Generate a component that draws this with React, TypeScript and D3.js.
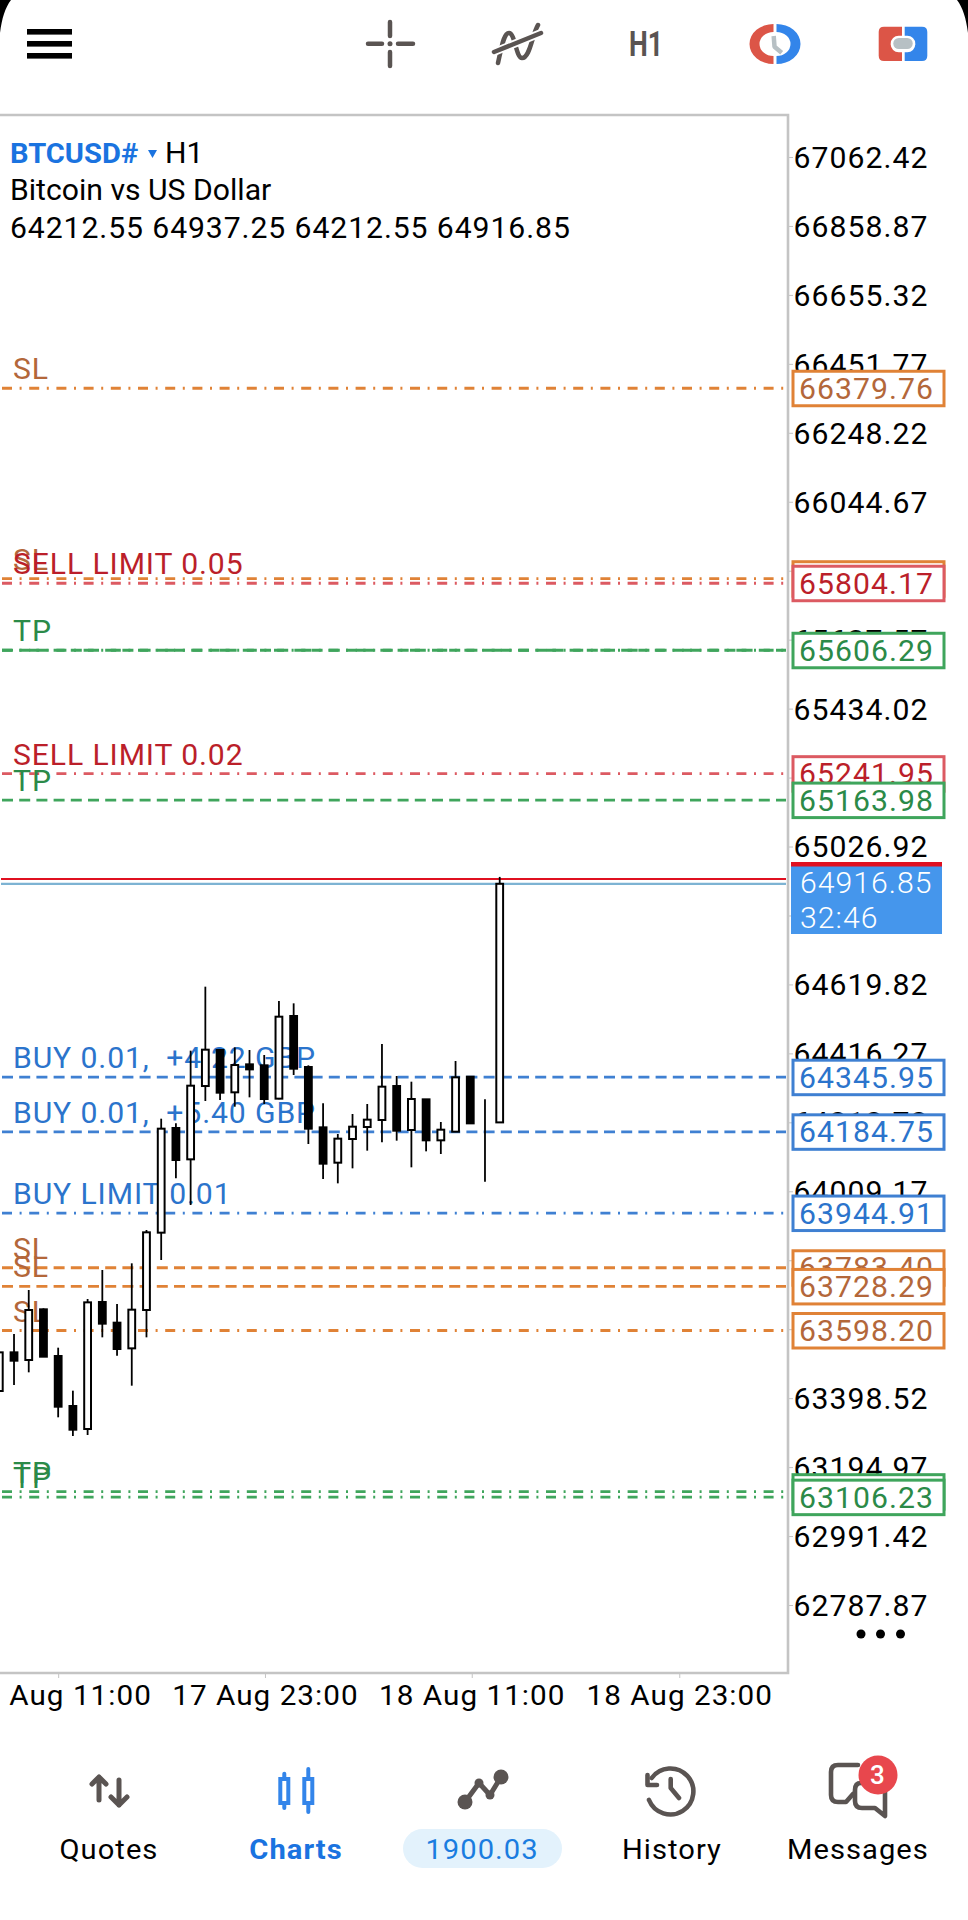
import React, { useEffect } from "react";
import * as d3 from "d3";

// chart values
const priceTicks = [
  67062.42, 66858.87, 66655.32, 66451.77, 66248.22, 66044.67, 65841.12, 65637.57, 65434.02, 65230.47, 65026.92,
  64823.37, 64619.82, 64416.27, 64212.72, 64009.17, 63805.62, 63602.07, 63398.52, 63194.97, 62991.42, 62787.87,
];
const timeLabels = ["17 Aug 11:00", "17 Aug 23:00", "18 Aug 11:00", "18 Aug 23:00"];
const timeTickBars = [4, 18.05, 32.1, 46.2];

const opens = [
  63419.6, 63533.7, 63511.1, 63660.7, 63522.9, 63375.3, 63307.4, 63682.3, 63621.3, 63545.5, 63658.7, 63887.0,
  64196.0, 64103.5, 64319.9, 64426.2, 64301.3, 64383.9, 64381.0, 64282.6, 64526.6, 64376.0, 64197.9, 64093.6,
  64163.5, 64198.9, 64219.6, 64319.9, 64190.1, 64280.6, 64159.6, 64185.1, 64347.5, 64211.7, 64212.55,
];
const closes = [
  63533.7, 63509.1, 63658.7, 63520.9, 63373.3, 63305.4, 63681.3, 63618.4, 63543.6, 63659.7, 63888.0, 64194.0,
  64101.5, 64320.9, 64427.2, 64300.3, 64381.9, 64369.1, 64281.6, 64524.6, 64371.1, 64194.0, 64090.7, 64164.5,
  64199.9, 64220.6, 64318.0, 64188.1, 64281.6, 64159.6, 64191.0, 64345.5, 64209.7, 64211.7, 64916.85,
];
const highs = [
  63533.7, 63587.9, 63717.7, 63663.6, 63547.5, 63420.6, 63691.2, 63776.8, 63676.4, 63796.5, 63894.9, 64223.5,
  64209.7, 64424.3, 64613.2, 64428.2, 64434.1, 64426.2, 64411.5, 64570.9, 64564.0, 64381.0, 64268.8, 64178.3,
  64237.3, 64266.8, 64443.9, 64349.5, 64332.7, 64280.6, 64213.7, 64393.7, 64347.5, 64280.6, 64937.25,
];
const lows = [
  63419.6, 63437.3, 63474.7, 63520.9, 63341.9, 63286.7, 63289.7, 63578.0, 63523.9, 63435.3, 63578.0, 63806.3,
  64047.4, 63968.7, 64275.7, 64278.6, 64258.9, 64286.5, 64266.8, 64280.6, 64352.4, 64148.7, 64045.4, 64032.6,
  64076.9, 64129.1, 64153.7, 64158.6, 64079.9, 64127.1, 64119.2, 64185.1, 64209.7, 64037.5, 64212.55,
];

const orderLabels = [
  "SL", "SL", "SELL LIMIT 0.05", "TP", "TP", "SELL LIMIT 0.02", "TP",
  "BUY 0.01,  +4.22 GBP", "BUY 0.01,  +5.40 GBP", "BUY LIMIT 0.01",
  "SL", "SL", "SL", "TP", "TP",
];
const orderPrices = [
  66379.76, 65817.5, 65804.17, 65606.29, 65606.29, 65241.95, 65163.98,
  64345.95, 64184.75, 63944.91,
  63783.4, 63728.29, 63598.2, 63122.4, 63106.23,
];
const orderKinds = [
  "dashdot", "dashdot", "dashdot", "dashdot", "dash", "dashdot", "dash",
  "dash", "dash", "dashdot",
  "dash", "dash", "dashdot", "dashdot", "dashdot",
];
const bidPrice = 64916.85;
const askPrice = 64931.0;
const countdown = "32:46";
const balance = "1900.03";
const navLabels = ["Quotes", "Charts", "History", "Messages"];

const FONT = "Roboto, sans-serif";
const GREY = "#5a5452";
const BLUE = "#3385ea";
const SX = 1.04; // the screenshot is a bit wider than the glyphs' natural shape
const LS = 1;

const lineColor = (l: string) =>
  l.startsWith("SL") ? "#e08236" : l.startsWith("TP") ? "#3fa55c" : l.startsWith("SELL") ? "#dc5a62" : "#3f80d2";
const textColor = (l: string) =>
  l.startsWith("SL") ? "#b3673a" : l.startsWith("TP") ? "#2b8a48" : l.startsWith("SELL") ? "#bb1f2a" : "#2b74cc";

const App = () => {
  const svgRef = React.useRef(null);

  useEffect(() => {
    const svg = d3.select(svgRef.current);
    svg.selectAll("*").remove();

    const y = d3.scaleLinear().domain([62787.87, 67062.42]).range([1605, 157]);
    const x = d3.scaleLinear().domain([0, 34]).range([-0.7, 499.7]);

    const put = (
      g: any,
      str: string,
      tx: number,
      ty: number,
      size: number,
      fill: string,
      weight = 400,
      anchor = "start"
    ) =>
      g
        .append("text")
        .attr("transform", `translate(${tx},${ty}) scale(${SX},1)`)
        .attr("font-family", FONT)
        .attr("font-size", size)
        .attr("font-weight", weight)
        .attr("letter-spacing", LS)
        .attr("text-anchor", anchor)
        .attr("fill", fill)
        .text(str);

    // frame
    svg
      .append("path")
      .attr("d", "M0,115 H788 V1673 H0")
      .attr("fill", "none")
      .attr("stroke", "#c4c4c4")
      .attr("stroke-width", 2.6);

    // order labels and lines sit below the candles
    const orders = svg.append("g");
    orderLabels.forEach((l, i) => {
      const py = y(orderPrices[i]);
      if (!(l === "TP" && orderKinds[i] === "dash" && orderPrices[i] === orderPrices[i - 1]))
        put(orders, l, 13, py - 9, 29, textColor(l)).attr("letter-spacing", 0.85).style("white-space", "pre");
      orders
        .append("line")
        .attr("x1", 2)
        .attr("x2", 786)
        .attr("y1", py)
        .attr("y2", py)
        .attr("stroke", lineColor(l))
        .attr("stroke-width", 2.8)
        .attr("stroke-dasharray", orderKinds[i] === "dash" ? "11 6.2" : "10 7.6 2 7.6");
    });

    [
      { p: askPrice, c: "#e01020" },
      { p: bidPrice, c: "#7db3d3" },
    ].forEach((d) => {
      svg
        .append("line")
        .attr("x1", 1)
        .attr("x2", 786)
        .attr("y1", y(d.p))
        .attr("y2", y(d.p))
        .attr("stroke", d.c)
        .attr("stroke-width", 2.2);
    });

    // candles
    const candles = highs.map((h, i) => ({ i, h, l: lows[i], o: opens[i], c: closes[i] }));
    const bars = svg.append("g").selectAll("g").data(candles).enter().append("g");
    bars
      .append("line")
      .attr("x1", (d) => x(d.i))
      .attr("x2", (d) => x(d.i))
      .attr("y1", (d) => y(d.h))
      .attr("y2", (d) => y(d.l))
      .attr("stroke", "#000")
      .attr("stroke-width", 1.8);
    bars
      .append("rect")
      .attr("x", (d) => x(d.i) - 3.4)
      .attr("width", 6.8)
      .attr("y", (d) => y(Math.max(d.o, d.c)))
      .attr("height", (d) => Math.abs(y(d.o) - y(d.c)))
      .attr("fill", (d) => (d.c >= d.o ? "#fff" : "#000"))
      .attr("stroke", "#000")
      .attr("stroke-width", 2);

    // axes
    const yAxis = svg
      .append("g")
      .attr("transform", "translate(788,0)")
      .call(d3.axisRight(y).tickValues(priceTicks).tickFormat(d3.format(".2f") as any).tickSize(5));
    yAxis.select(".domain").remove();
    yAxis.selectAll("line").attr("stroke", "#c4c4c4");
    yAxis
      .selectAll("text")
      .attr("transform", `scale(${SX},1)`)
      .attr("x", 5.5 / SX)
      .attr("dy", "0.36em")
      .attr("font-family", FONT)
      .attr("font-size", 29)
      .attr("letter-spacing", LS)
      .attr("fill", "#000");

    const xAxis = svg
      .append("g")
      .attr("transform", "translate(0,1673)")
      .call(
        d3
          .axisBottom(x)
          .tickValues(timeTickBars)
          .tickFormat((_: any, i: number) => timeLabels[i])
          .tickSize(5)
      );
    xAxis.select(".domain").remove();
    xAxis.selectAll("line").attr("stroke", "#c4c4c4");
    xAxis
      .selectAll("text")
      .attr("transform", `scale(${SX},1)`)
      .attr("y", 32)
      .attr("dy", 0)
      .attr("font-family", FONT)
      .attr("font-size", 28.5)
      .attr("letter-spacing", LS)
      .attr("fill", "#000");

    // price tags, lower ones painted over upper ones
    const tag = (l: string, p: number) => {
      const py = y(p);
      svg
        .append("rect")
        .attr("x", 793)
        .attr("y", py - 17)
        .attr("width", 151)
        .attr("height", 34.5)
        .attr("fill", "#fff")
        .attr("stroke", lineColor(l))
        .attr("stroke-width", 3);
      put(svg, p.toFixed(2), 799, py + 10.5, 29, textColor(l));
    };
    const firstBuy = orderLabels.findIndex((l) => l.startsWith("BUY"));
    orderLabels.forEach((l, i) => {
      if (i < firstBuy && orderPrices[i] !== orderPrices[i + 1]) tag(l, orderPrices[i]);
    });

    svg.append("rect").attr("x", 791).attr("y", 866).attr("width", 151).attr("height", 68).attr("fill", "#4596ec");
    svg.append("rect").attr("x", 791).attr("y", 862).attr("width", 151).attr("height", 4.5).attr("fill", "#e01020");
    put(svg, bidPrice.toFixed(2), 800, 893, 29, "#fff", 300);
    put(svg, countdown, 800, 928, 29, "#fff", 300);

    orderLabels.forEach((l, i) => {
      if (i >= firstBuy) tag(l, orderPrices[i]);
    });

    // dots under the axis
    [861, 880.5, 900.5].forEach((cx) => svg.append("circle").attr("cx", cx).attr("cy", 1634).attr("r", 4.5));

    // header text
    put(svg, "BTCUSD#", 10, 163, 28, "#1a73e0", 700).attr("letter-spacing", 0);
    svg.append("path").attr("d", "M148,150 H157 L152.5,158 Z").attr("fill", "#1a73e0");
    put(svg, "H1", 165, 163, 29, "#000").attr("letter-spacing", 0);
    put(svg, "Bitcoin vs US Dollar", 10, 200, 29, "#000").attr("letter-spacing", 0);
    put(svg, [64212.55, 64937.25, 64212.55, 64916.85].map((v) => v.toFixed(2)).join(" "), 10, 238, 29, "#000").attr(
      "letter-spacing",
      0.88
    );

    // phone corners
    svg.append("path").attr("d", "M968,33 C966,18 963,8 957,0 H968 Z").attr("fill", "#000");
    svg.append("path").attr("d", "M0,33 C2,18 5,8 11,0 H0 Z").attr("fill", "#000");

    // toolbar
    [0, 1, 2].forEach((i) =>
      svg.append("rect").attr("x", 27).attr("y", 29 + i * 12).attr("width", 45).attr("height", 5.6)
    );
    const stroke = (d: string, color: string, w: number) =>
      svg
        .append("path")
        .attr("d", d)
        .attr("fill", "none")
        .attr("stroke", color)
        .attr("stroke-width", w)
        .attr("stroke-linecap", "round")
        .attr("stroke-linejoin", "round");
    stroke("M368,43.7 H382 M398,43.7 H413 M390,22 V36 M390,52 V66", GREY, 4.5);
    svg.append("circle").attr("cx", 390).attr("cy", 43.7).attr("r", 2.5).attr("fill", GREY);
    stroke("M498,63 C502,45 504,33 509,33 C515,33 516,58 522,58 C530,58 532,35 538,25", GREY, 4.5);
    stroke("M494,52 L541,33", "#fff", 8);
    stroke("M494,52 L541,33", GREY, 4.5);
    svg
      .append("text")
      .attr("x", 629)
      .attr("y", 56)
      .attr("font-family", FONT)
      .attr("font-weight", 700)
      .attr("font-size", 35)
      .attr("textLength", 34)
      .attr("lengthAdjust", "spacingAndGlyphs")
      .attr("fill", GREY)
      .text("H1");

    svg.append("path").attr("d", "M773.5,24 A24,20 0 0 0 773.5,64 V56 A14,12 0 0 1 773.5,32 Z").attr("fill", "#dc5547");
    svg.append("path").attr("d", "M776.5,24 A24,20 0 0 1 776.5,64 V56 A14,12 0 0 0 776.5,32 Z").attr("fill", BLUE);
    stroke("M773.7,36 L774.5,46.7 L781.7,52.7", "#b7c0c4", 4.5).attr("stroke-linecap", "butt");

    svg.append("path").attr("d", "M902,26.7 H884 Q878.7,26.7 878.7,32 V55.7 Q878.7,61 884,61 H902 Z").attr("fill", "#dc5547");
    svg.append("path").attr("d", "M904.7,26.7 H922 Q927.3,26.7 927.3,32 V55.7 Q927.3,61 922,61 H904.7 Z").attr("fill", BLUE);
    svg.append("rect").attr("x", 890.7).attr("y", 35.7).attr("width", 24.6).attr("height", 16.6).attr("rx", 8).attr("fill", "#fff");
    svg.append("rect").attr("x", 893.3).attr("y", 38).attr("width", 19.4).attr("height", 11).attr("rx", 5.5).attr("fill", "#b7c0c4");

    // bottom navigation
    stroke("M99,1777 V1800 M92,1784 L99,1777 L106,1784", GREY, 5);
    stroke("M119,1780 V1805 M111,1797 L119,1805 L127,1797", GREY, 5);

    [
      { cx: 284.3, t: 1771.7, b: 1810 },
      { cx: 308.3, t: 1767, b: 1814 },
    ].forEach((c) => {
      stroke(`M${c.cx},${c.t + 2} V${c.b - 2}`, BLUE, 4);
      svg
        .append("rect")
        .attr("x", c.cx - 4)
        .attr("y", 1779)
        .attr("width", 8)
        .attr("height", 24)
        .attr("fill", "#fff")
        .attr("stroke", BLUE)
        .attr("stroke-width", 4);
    });

    stroke("M465,1802 L479,1783 L490,1795 L501,1777", GREY, 5);
    [
      [465, 1802, 7.5],
      [479, 1783, 4.5],
      [490, 1795, 4.5],
      [501, 1777, 7.5],
    ].forEach((c) => svg.append("circle").attr("cx", c[0]).attr("cy", c[1]).attr("r", c[2]).attr("fill", GREY));

    svg.append("rect").attr("x", 403).attr("y", 1829).attr("width", 159).attr("height", 39).attr("rx", 19.5).attr("fill", "#e3f2fc");

    stroke("M651.7,1778 A23,23 0 1 1 649,1800", GREY, 4.6);
    stroke("M647.5,1775 V1785 H657", GREY, 4.6);
    stroke("M670.7,1779 V1788 L679,1798", GREY, 4.6);

    stroke("M858,1765 H838 Q831,1765 831,1772 V1795 Q831,1802 838,1802 H846 L853,1794", GREY, 4.6);
    stroke("M866,1783 H861 Q855,1783 855,1790 V1801 Q855,1808 862,1808 H875 L885,1816 V1790", GREY, 4.6);
    svg.append("circle").attr("cx", 878).attr("cy", 1775).attr("r", 19.5).attr("fill", "#e8474d");
    put(svg, "3", 878, 1784, 25, "#fff", 500, "middle");

    put(svg, navLabels[0], 109, 1859, 28, "#000", 400, "middle");
    put(svg, navLabels[1], 296, 1859, 28, "#1a73e0", 700, "middle");
    put(svg, balance, 482, 1859, 28, "#1a7de0", 400, "middle");
    put(svg, navLabels[2], 672, 1859, 28, "#000", 400, "middle");
    put(svg, navLabels[3], 858, 1859, 28, "#000", 400, "middle");
  }, []);

  return (
    <svg
      ref={svgRef}
      width={968}
      height={1920}
      style={{ position: "absolute", left: 0, top: 0, background: "#fff" }}
    />
  );
};

export default App;
